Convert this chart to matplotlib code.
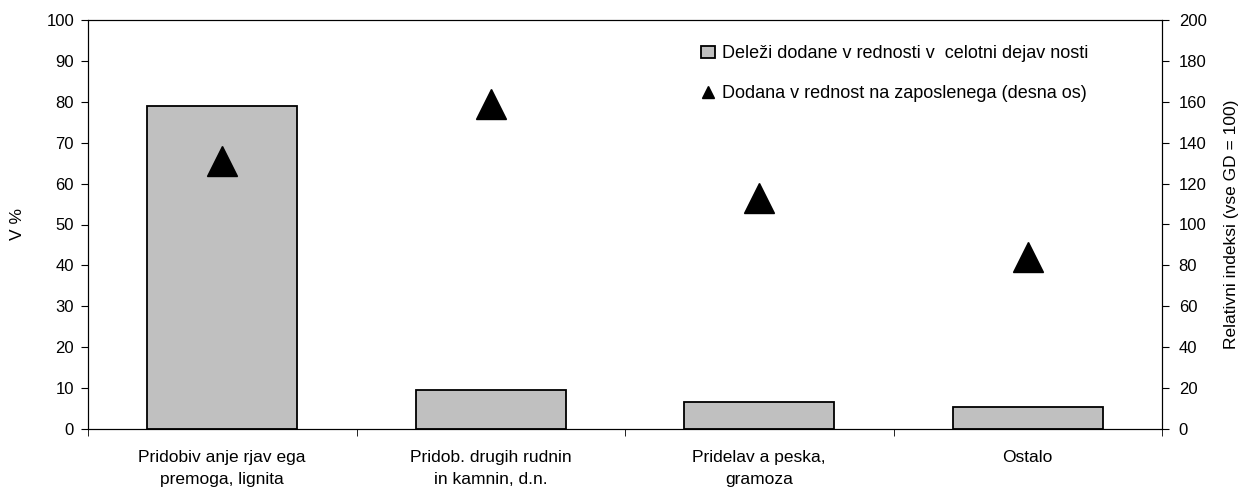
import numpy as np
import matplotlib.pyplot as plt

plt.rcParams['font.family'] = ['Liberation Sans', 'DejaVu Sans']

# podatki
kategorije = ["Pridobiv anje rjav ega\npremoga, lignita",
              "Pridob. drugih rudnin\nin kamnin, d.n.",
              "Pridelav a peska,\ngramoza",
              "Ostalo"]
delezi = [79, 9.5, 6.5, 5.5]
indeksi = [131, 159, 113, 84]

x = np.arange(len(kategorije))

fig = plt.figure(figsize=(12.45, 4.92), dpi=100)
ax = fig.add_axes([88 / 1245, 1 - 429 / 492, (1162 - 88) / 1245, (429 - 20) / 492])

ax.bar(x, delezi, width=0.56, color="#c0c0c0", edgecolor="black", linewidth=1.3,
       label="Deleži dodane v rednosti v  celotni dejav nosti", zorder=2)
ax.set_xlim(-0.5, len(kategorije) - 0.5)
ax.set_ylim(0, 100)
ax.set_yticks(range(0, 101, 10))
ax.set_ylabel("V %", fontsize=12.5, va="center")
ax.yaxis.set_label_coords(-0.066, 0.5)
ax.tick_params(axis="y", labelsize=12, direction="out", length=5, pad=5)

# x os: kljukice na mejah kategorij
ax.set_xticks(x)
ax.set_xticklabels(kategorije, fontsize=12.5, linespacing=1.6)
ax.tick_params(axis="x", length=0, pad=15)
ax.set_xticks(np.arange(-0.5, len(kategorije) + 0.5, 1), minor=True)
ax.tick_params(axis="x", which="minor", length=5, direction="out")

ax2 = ax.twinx()
ax2.plot(x, indeksi, linestyle="none", marker="^", markersize=21, color="black",
         label="Dodana v rednost na zaposlenega (desna os)")
ax2.set_ylim(0, 200)
ax2.set_yticks(range(0, 201, 20))
ax2.set_ylabel("Relativni indeksi (vse GD = 100)", fontsize=12.5, va="center")
ax2.yaxis.set_label_coords(1.065, 0.5)
ax2.tick_params(axis="y", labelsize=12, direction="out", length=5, pad=7)

h1, l1 = ax.get_legend_handles_labels()
h2, l2 = ax2.get_legend_handles_labels()
leg = fig.legend(h1 + h2, l1 + l2, loc="upper left", bbox_to_anchor=(701 / 1245, 1 - 45 / 492),
                 frameon=False, fontsize=13, handlelength=0.75, handleheight=0.65,
                 handletextpad=0.4, labelspacing=1.3, markerscale=0.43,
                 borderpad=0, borderaxespad=0)

fig.savefig("out.png", dpi=100)
